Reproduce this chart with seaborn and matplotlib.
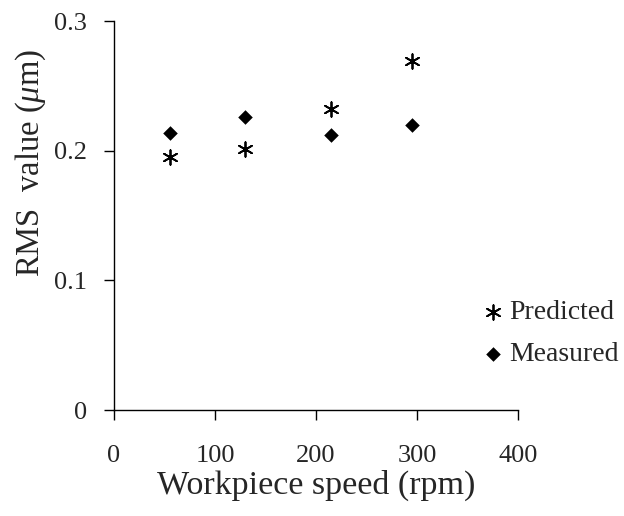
import matplotlib
matplotlib.use("Agg")
import matplotlib.pyplot as plt
import seaborn as sns
import pandas as pd

speed = [55, 130, 215, 295]
predicted = [0.195, 0.201, 0.232, 0.269]
measured = [0.214, 0.226, 0.212, 0.220]
x_ticks = [0, 100, 200, 300, 400]
y_ticks = [0, 0.1, 0.2, 0.3]
y_tick_labels = ["0", "0.1", "0.2", "0.3"]

sns.set_style("ticks")
plt.rcParams['font.family'] = ['Liberation Serif', 'DejaVu Serif']
plt.rcParams['mathtext.fontset'] = 'custom'
plt.rcParams['mathtext.it'] = 'Liberation Serif:italic'
plt.rcParams['mathtext.rm'] = 'Liberation Serif'

fig = plt.figure(figsize=(6.24, 5.16), dpi=100)
ax = fig.add_axes([0.1827, 0.2054, 0.8301 - 0.1827, 0.9593 - 0.2054])

df = pd.DataFrame({"speed": speed, "Predicted": predicted, "Measured": measured})

sns.scatterplot(data=df, x="speed", y="Predicted", ax=ax, marker=(6, 2, 0),
                s=110, color="black", linewidth=1.3, label="Predicted")
sns.scatterplot(data=df, x="speed", y="Measured", ax=ax, marker="D",
                s=55, color="black", edgecolor="black", linewidth=0, label="Measured")

ax.set_xlim(0, 400)
ax.set_ylim(0, 0.3)
ax.set_xticks(x_ticks)
ax.set_yticks(y_ticks)
ax.set_yticklabels(y_tick_labels)
ax.tick_params(axis='both', labelsize=19, length=7, width=1, color='black')
ax.tick_params(axis='x', pad=18)
ax.tick_params(axis='y', pad=12.5)
for s in ["top", "right"]:
    ax.spines[s].set_visible(False)
for s in ["left", "bottom"]:
    ax.spines[s].set_linewidth(1)
    ax.spines[s].set_color("black")

ax.set_xlabel("Workpiece speed (rpm)", fontsize=24.5, labelpad=2)
ax.set_ylabel(r"RMS  value ($\mu$m)", fontsize=23.5)
ax.yaxis.set_label_coords(-0.163, 0.635)

leg = ax.legend(loc="center left", bbox_to_anchor=(0.75, 0.354), bbox_transform=fig.transFigure,
                frameon=False, fontsize=20, handletextpad=0.1, labelspacing=0.6,
                handlelength=1.0, borderaxespad=0)
fig.savefig("out.png", dpi=100)
